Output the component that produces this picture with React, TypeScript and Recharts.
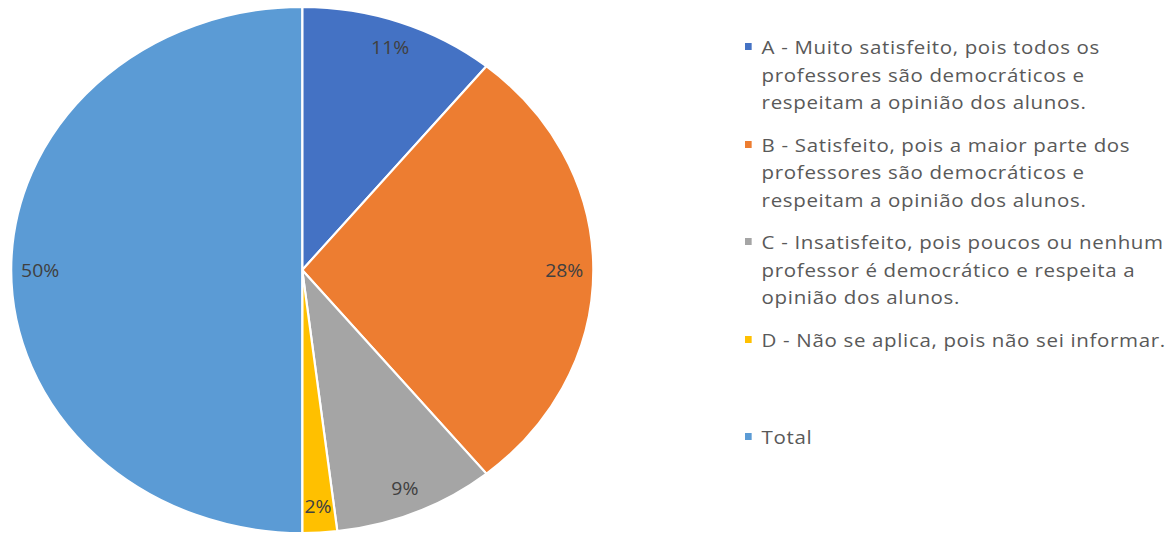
import React from 'react';
import { PieChart, Pie, Cell, Legend } from 'recharts';

// answer categories (legend lines split where the original wraps)
const categories = [
  'A - Muito satisfeito, pois todos os\nprofessores são democráticos e\nrespeitam a opinião dos alunos.',
  'B - Satisfeito, pois a maior parte dos\nprofessores são democráticos e\nrespeitam a opinião dos alunos.',
  'C - Insatisfeito, pois poucos ou nenhum\nprofessor é democrático e respeita a\nopinião dos alunos.',
  'D - Não se aplica, pois não sei informar.',
  'Total',
];
const counts = [17, 44, 14, 3, 78];
const COLORS = ['#4472C4', '#ED7D31', '#A5A5A5', '#FFC000', '#5B9BD5'];

const data = categories.map((name, i) => ({ name, value: counts[i] }));

// the original picture is stretched horizontally
const STRETCH = 1.107;
const W = 1060;
const H = 536;

const RADIAN = Math.PI / 180;

const renderLabel = (props: any) => {
  const { cx, cy, midAngle, outerRadius, percent } = props;
  const r = outerRadius * 0.9;
  const x = cx + r * Math.cos(-midAngle * RADIAN);
  const y = cy + r * Math.sin(-midAngle * RADIAN);
  return (
    <text
      x={x}
      y={y}
      fill="#404040"
      textAnchor="middle"
      dominantBaseline="central"
      fontSize={17.5}
      fontFamily="'Open Sans', sans-serif"
    >
      {`${Math.round(percent * 100)}%`}
    </text>
  );
};

const renderLegend = (props: any) => {
  const { payload } = props;
  return (
    <div
      style={{
        fontFamily: "'Open Sans', sans-serif",
        fontSize: 18.5,
        letterSpacing: 0.6,
        color: '#595959',
      }}
    >
      {payload.map((entry: any, i: number) => (
        <div key={`leg-${i}`} style={{ height: 97.5, position: 'relative', paddingLeft: 16 }}>
          <span
            style={{
              position: 'absolute',
              left: 1,
              top: 10,
              width: 6,
              height: 7,
              background: entry.color,
            }}
          />
          <div style={{ whiteSpace: 'pre', lineHeight: '27.5px' }}>{entry.value}</div>
        </div>
      ))}
    </div>
  );
};

const App: React.FC = () => {
  return (
    <div
      style={{
        position: 'absolute',
        left: 0,
        top: 0,
        width: W,
        height: H,
        background: '#fff',
        transform: `scaleX(${STRETCH})`,
        transformOrigin: '0 0',
      }}
    >
      <PieChart width={W} height={H} margin={{ top: 0, right: 0, bottom: 0, left: 0 }}>
        <Pie
          data={data}
          dataKey="value"
          nameKey="name"
          cx={273}
          cy={270}
          outerRadius={263}
          startAngle={90}
          endAngle={-270}
          stroke="#fff"
          strokeWidth={2}
          label={renderLabel}
          labelLine={false}
          isAnimationActive={false}
        >
          {data.map((entry, index) => (
            <Cell key={`cell-${index}`} fill={COLORS[index]} />
          ))}
        </Pie>
        <Legend
          layout="vertical"
          content={renderLegend}
          wrapperStyle={{ top: 33, left: 672, width: 385 }}
        />
      </PieChart>
    </div>
  );
};

export default App;
